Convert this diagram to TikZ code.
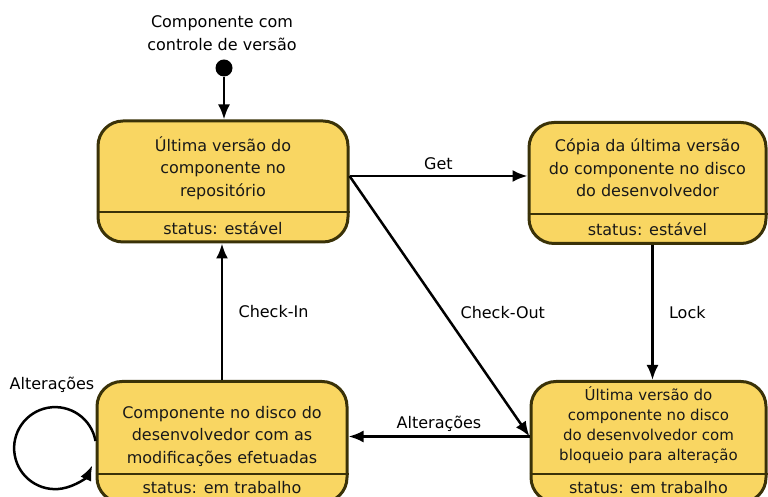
\documentclass[tikz,border=0pt]{standalone}
\usepackage{fontspec}
\setsansfont{DejaVu Sans}
\usetikzlibrary{arrows.meta, positioning, calc}
\definecolor{stateyellow}{RGB}{249,214,98}
\definecolor{stateedge}{RGB}{58,50,8}

\begin{document}
\begin{tikzpicture}[x=1pt, y=1pt,
    statebox/.style={draw=stateedge, fill=stateyellow, line width=3pt, rounded corners=25pt,
        minimum width=#1, minimum height=121pt, inner sep=0pt},
    statetext/.style={align=center, font=\sffamily\fontsize{16}{22.5}\selectfont, text=black!90},
    statustext/.style={font=\sffamily\fontsize{16}{18}\selectfont, text=black!90},
    divider/.style={draw=stateedge, line width=2pt},
    trans/.style={-{Latex[length=15pt,width=12pt]}, line width=2.5pt},
    lbl/.style={align=center, font=\sffamily\fontsize{16}{23}\selectfont},
    initdot/.style={circle, fill=black, minimum size=17pt, inner sep=0pt}]
    \path[use as bounding box] (0,0) rectangle (768,497);
    \clip (0,0) rectangle (768,497);

    % initial state
    \node[initdot] (start) at (224,429) {};
    \node[lbl] (startlabel) at (222,463.5) {Componente com\\controle de versão};

    % states
    \node[statebox=250pt] (repo) at (223,315.5) {};
    \draw[divider] (repo.west |- 0,285) -- (repo.east |- 0,285);
    \node[statetext] (repotext) at (223,329) {Última versão do\\componente no\\repositório};
    \node[statustext] (repostatus) at (223,269) {status: estável};

    \node[statebox=237pt] (copy) at (647.5,314) {};
    \draw[divider] (copy.west |- 0,283) -- (copy.east |- 0,283);
    \node[statetext] (copytext) at (647.5,329) {Cópia da última versão\\do componente no disco\\do desenvolvedor};
    \node[statustext] (copystatus) at (647.5,268) {status: estável};

    \node[statebox=250pt] (dev) at (222,55) {};
    \draw[divider] (dev.west |- 0,23) -- (dev.east |- 0,23);
    \node[statetext] (devtext) at (222,61) {Componente no disco do\\desenvolvedor com as\\modificações efetuadas};
    \node[statustext] (devstatus) at (222,9) {status: em trabalho};

    \node[statebox=235pt] (locked) at (648.5,55) {};
    \draw[divider] (locked.west |- 0,23) -- (locked.east |- 0,23);
    \node[statetext, font=\sffamily\fontsize{15}{20}\selectfont] (lockedtext) at (648.5,72)
        {Última versão do\\componente no disco\\do desenvolvedor com\\bloqueio para alteração};
    \node[statustext] (lockedstatus) at (648.5,9) {status: em trabalho};

    % transitions
    \coordinate (getfrom) at ([yshift=5.5pt]repo.east);
    \coordinate (outto) at ([yshift=5.5pt]locked.west);
    \coordinate (lockfrom) at ([xshift=5pt]copy.south);

    \draw[trans] (start) -- (start |- repo.north);
    \draw[trans] (getfrom) -- (getfrom -| copy.west) node[lbl, midway, above=2pt] {Get};
    \draw[trans] (getfrom) -- (outto) node[lbl, pos=0.525, right=12pt] {Check-Out};
    \draw[trans] (lockfrom) -- (lockfrom |- locked.north) node[lbl, midway, right=12pt] {Lock};
    \draw[trans] (outto) -- (outto -| dev.east) node[lbl, midway, above=0pt] {Alterações};
    \draw[trans] (dev.north) -- (dev.north |- repo.south) node[lbl, midway, right=12pt] {Check-In};
    \draw[trans] ([yshift=1pt]dev.west) arc[start angle=10, end angle=335, radius=41pt];
    \node[lbl] (looplabel) at (52,112) {Alterações};
\end{tikzpicture}
\end{document}
